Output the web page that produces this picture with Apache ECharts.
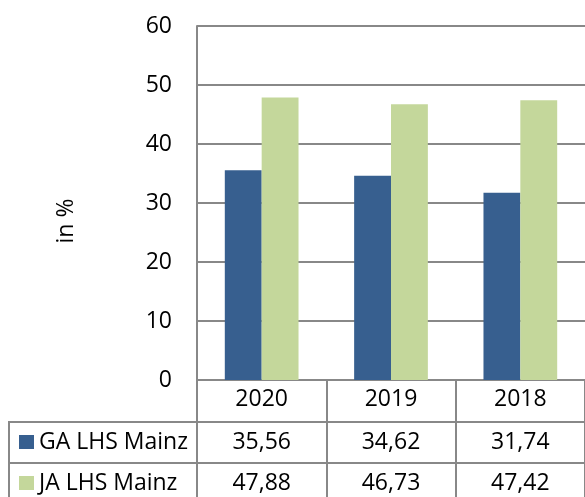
<!DOCTYPE html>
<html>
<head>
<meta charset="utf-8">
<script src="https://cdn.jsdelivr.net/npm/echarts@6/dist/echarts.min.js"></script>
<style>
html, body { margin: 0; padding: 0; background: #fff; }
#main { width: 585px; height: 497px; }
</style>
</head>
<body>
<div id="main"></div>
<script>
var years = ['2020', '2019', '2018']
var gaName = 'GA LHS Mainz'
var jaName = 'JA LHS Mainz'
var gaValues = [35.56, 34.62, 31.74]
var jaValues = [47.88, 46.73, 47.42]
var yTicks = [0, 10, 20, 30, 40, 50, 60]

var gaColor = '#375f8f'
var jaColor = '#c4d79b'
var lineColor = '#888888'
var font = '"Open Sans", "Liberation Sans", sans-serif'
var fs = 23

function fmt(v) {
    return v.toFixed(2).replace('.', ',')
}

var chart = echarts.init(document.getElementById('main'))

var option = {
    animation: false,
    grid: { left: 197, top: 26, width: 395, height: 354, containLabel: false },
    xAxis: {
        type: 'category',
        data: years,
        axisLine: { lineStyle: { color: lineColor, width: 2 } },
        axisTick: { show: true, inside: false, length: 125, lineStyle: { color: lineColor, width: 2 } },
        axisLabel: { color: '#000', fontFamily: font, fontSize: fs, margin: 8 }
    },
    yAxis: {
        type: 'value',
        min: yTicks[0],
        max: yTicks[yTicks.length - 1],
        interval: 10,
        axisLine: { show: true, lineStyle: { color: lineColor, width: 2 } },
        axisTick: { show: false },
        splitLine: { lineStyle: { color: lineColor, width: 2 } },
        axisLabel: { color: '#000', fontFamily: font, fontSize: fs, margin: 25 }
    },
    series: [
        {
            name: gaName, type: 'bar', data: gaValues,
            barGap: '0%', barCategoryGap: '43%',
            itemStyle: { color: gaColor }
        },
        {
            name: jaName, type: 'bar', data: jaValues,
            barGap: '0%', barCategoryGap: '43%',
            itemStyle: { color: jaColor }
        }
    ]
}
chart.setOption(option)

// data table below the plot
var row1 = 442, row2 = 483
var g = []
g.push({ type: 'line', shape: { x1: 9, y1: 422, x2: 600, y2: 422 }, style: { stroke: lineColor, lineWidth: 2 } })
g.push({ type: 'line', shape: { x1: 9, y1: 463, x2: 600, y2: 463 }, style: { stroke: lineColor, lineWidth: 2 } })
g.push({ type: 'line', shape: { x1: 9, y1: 421, x2: 9, y2: 500 }, style: { stroke: lineColor, lineWidth: 2 } })
g.push({ type: 'rect', shape: { x: 19, y: 435, width: 15, height: 14 }, style: { fill: gaColor } })
g.push({ type: 'rect', shape: { x: 19, y: 476, width: 15, height: 14 }, style: { fill: jaColor } })
g.push({ type: 'text', x: 39, y: row1, style: { text: gaName, font: fs + 'px ' + font, fill: '#000', verticalAlign: 'middle' } })
g.push({ type: 'text', x: 39, y: row2, style: { text: jaName, font: fs + 'px ' + font, fill: '#000', verticalAlign: 'middle' } })
years.forEach(function(y, i) {
    var x = chart.convertToPixel({ xAxisIndex: 0 }, y)
    g.push({ type: 'text', x: x, y: row1, style: { text: fmt(gaValues[i]), font: fs + 'px ' + font, fill: '#000', align: 'center', verticalAlign: 'middle' } })
    g.push({ type: 'text', x: x, y: row2, style: { text: fmt(jaValues[i]), font: fs + 'px ' + font, fill: '#000', align: 'center', verticalAlign: 'middle' } })
})
g.push({ type: 'text', x: 66, y: 221, rotation: Math.PI / 2, style: { text: 'in %', font: fs + 'px ' + font, fill: '#000', align: 'center', verticalAlign: 'middle' } })
chart.setOption({ graphic: g })
</script>
</body>
</html>
